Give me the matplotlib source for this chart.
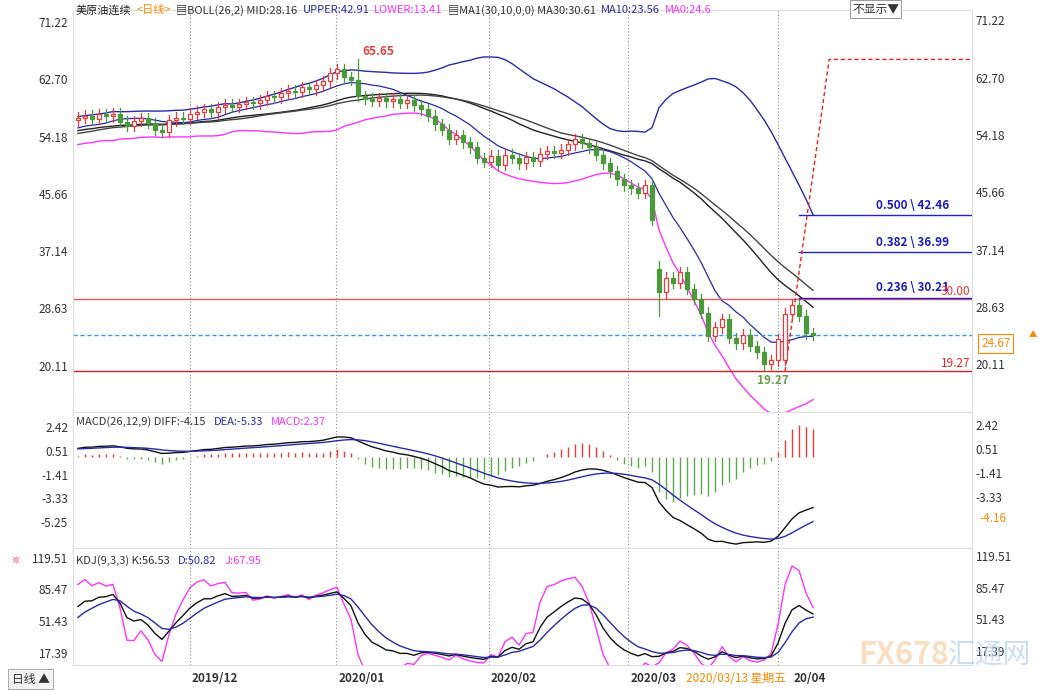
import numpy as np
import pandas as pd
import matplotlib
matplotlib.use('Agg')
import matplotlib.pyplot as plt
from matplotlib.patches import Rectangle

plt.rcParams['font.family'] = ['Noto Sans CJK SC', 'DejaVu Sans']

# closes before the visible window (warm-up for the indicators)
history = [52.0, 52.6, 51.8, 51.2, 52.1, 52.9, 53.8, 53.1, 54.2, 54.8,
           53.9, 54.9, 55.3, 54.4, 55.6, 54.9, 56.0, 55.1, 55.8, 56.6,
           55.6, 54.7, 55.4, 56.3, 55.2, 54.4, 53.9, 55.0, 56.1, 56.6]

closes = [57.0, 57.3, 56.8, 57.5, 57.2, 57.6, 56.4, 55.8,
          56.5, 56.9, 56.2, 55.2, 54.9, 56.6, 57.0, 56.8,
          57.6, 57.9, 58.2, 57.8, 58.5, 58.9, 58.6, 59.0,
          59.3, 59.1, 59.6, 60.2, 60.0, 60.6, 61.0, 60.8,
          61.5, 61.2, 61.8, 62.4, 63.6,
          64.2, 63.0, 62.6, 60.2, 59.8,
          59.5, 59.9, 59.4, 59.8, 59.2, 59.6, 58.8, 58.2,
          57.3, 56.0, 55.2, 53.8, 54.4, 53.3, 52.6,
          51.0, 50.4, 51.3, 50.0, 51.5, 51.0, 50.2,
          51.1, 50.6, 51.6, 52.0, 51.8, 52.2,
          53.0, 53.8, 53.2, 52.6,
          51.5, 50.2, 49.0, 47.8, 46.9, 46.5,
          45.8, 46.9, 41.8,
          31.0, 33.2, 32.4, 34.0, 31.5, 30.0,
          28.0, 24.5, 25.8, 27.0, 24.2, 23.4,
          24.7, 23.0, 22.1, 20.4, 20.9,
          24.0, 27.8, 29.1, 27.5, 24.9, 24.67]
gap_opens = {83: 34.5, 101: 21.0}
wick = 0.8
special_high = {40: 65.65, 83: 35.6}
special_low = {98: 19.27, 83: 27.5}

fib_levels = [0.500, 0.382, 0.236]
fib_prices = [42.46, 36.99, 30.21]
main_ticks = [71.22, 62.70, 54.18, 45.66, 37.14, 28.63, 20.11]
macd_ticks = [2.42, 0.51, -1.41, -3.33, -5.25]
kdj_ticks = [119.51, 85.47, 51.43, 17.39]
month_pos = [16, 36.9, 58.7, 78.6]
month_lab = ['2019/12', '2020/01', '2020/02', '2020/03']

allc = pd.Series(history + closes)
n_h = len(history)
opens_all = allc.shift(1).fillna(allc.iloc[0]).values.copy()
for k, v in gap_opens.items():
    opens_all[n_h + k] = v
highs_all = np.maximum(opens_all, allc.values) + wick
lows_all = np.minimum(opens_all, allc.values) - wick
for k, v in special_high.items():
    highs_all[n_h + k] = v
for k, v in special_low.items():
    lows_all[n_h + k] = v

mid = allc.rolling(26).mean()
sd = allc.rolling(26).std(ddof=0)
upper, lower = mid + 2 * sd, mid - 2 * sd
ma30 = allc.rolling(30, min_periods=1).mean()
ma10 = allc.rolling(10).mean()
ema12 = allc.ewm(span=12, adjust=False).mean()
ema26 = allc.ewm(span=26, adjust=False).mean()
diff = ema12 - ema26
dea = diff.ewm(span=9, adjust=False).mean()
macd = 2 * (diff - dea)
hh = pd.Series(highs_all).rolling(9, min_periods=1).max()
ll = pd.Series(lows_all).rolling(9, min_periods=1).min()
rsv = (allc - ll) / (hh - ll) * 100
K = rsv.ewm(alpha=1/3, adjust=False).mean()
D = K.ewm(alpha=1/3, adjust=False).mean()
J = 3 * K - 2 * D

sl = slice(n_h, None)
x = np.arange(len(closes))
o, c, h, l = opens_all[sl], allc.values[sl], highs_all[sl], lows_all[sl]

fig = plt.figure(figsize=(10.42, 6.9), dpi=100)
L, W = 73 / 1042, 899 / 1042
def pane(top, bot):
    return fig.add_axes([L, 1 - bot / 690, W, (bot - top) / 690])
ax1 = pane(10, 412)
ax2 = pane(412, 548)
ax3 = pane(548, 665)
XL = (-0.7, 127.7)
RED, GRN = '#e83c3c', '#4a9a3c'

for ax in (ax1, ax2, ax3):
    ax.set_xlim(*XL)
    for s in ax.spines.values():
        s.set_color('#dddddd')
    ax.set_xticks([])
    ax.tick_params(axis='y', length=0, labelsize=8.5, colors='#333333')
    for m in month_pos + [100]:
        ax.axvline(m, color='#888888', ls=(0, (1, 2)), lw=0.8)

# candles
for i in x:
    up = c[i] >= o[i]
    col = RED if up else GRN
    ax1.plot([i, i], [l[i], h[i]], color=col, lw=0.9, zorder=3)
    b0, bh = min(o[i], c[i]), max(abs(c[i] - o[i]), 0.12)
    ax1.add_patch(Rectangle((i - 0.32, b0), 0.64, bh, facecolor='white' if up else col,
                            edgecolor=col, lw=0.9, zorder=4))
ax1.plot(x, upper[sl], color='#2a2aa6', lw=1)
ax1.plot(x, lower[sl], color='#ff33ff', lw=1)
ax1.plot(x, mid[sl], color='#222222', lw=1)
ax1.plot(x, ma30[sl], color='#444444', lw=1)
ax1.plot(x, ma10[sl], color='#2a2aa6', lw=0.9)

ax1.set_ylim(13.2, 73.0)
ax1.set_yticks(main_ticks)
ax1.set_yticklabels([f'{t:.2f}' for t in main_ticks])
ax1.axhline(30.0, color='#ee5555', lw=1)
ax1.axhline(19.27, color='#cc2222', lw=1)
ax1.axhline(24.67, color='#3399ff', lw=1, ls=(0, (3, 2)))
for f, p in zip(fib_levels, fib_prices):
    ax1.plot([103, XL[1]], [p, p], color='#2222cc', lw=1)
    ax1.text(124.5, p + 0.5, f'{f:.3f} \\ {p:.2f}', color='#1a1acc', fontsize=8.5,
             fontweight='bold', ha='right', va='bottom')
ax1.text(127.5, 30.2, '30.00', color='#ee3333', fontsize=8.5, ha='right', va='bottom')
ax1.text(127.5, 19.4, '19.27', color='#ee2222', fontsize=8.5, ha='right', va='bottom')
ax1.plot([101, 107.3, XL[1]], [19.27, 65.65, 65.65], color='#ee2222', lw=1, ls=(0, (3, 2)))
ax1.text(40.6, 65.9, '65.65', color='#dd4444', fontsize=8.5, fontweight='bold', va='bottom')
ax1.text(97, 18.9, '19.27', color='#6aa04a', fontsize=8.5, fontweight='bold', va='top')

# MACD
bar_c = [RED if v >= 0 else '#5aaa4c' for v in macd[sl]]
ax2.vlines(x, 0, macd[sl], colors=bar_c, lw=1)
ax2.plot(x, diff[sl], color='#111111', lw=1)
ax2.plot(x, dea[sl], color='#2a2aa6', lw=1)
ax2.set_ylim(-7.3, 3.6)
ax2.set_yticks(macd_ticks)
ax2.set_yticklabels([f'{t:.2f}' for t in macd_ticks])

# KDJ
ax3.plot(x, J[sl], color='#ff33ff', lw=1)
ax3.plot(x, K[sl], color='#111111', lw=1)
ax3.plot(x, D[sl], color='#2a2aa6', lw=1)
ax3.set_ylim(4, 130)
ax3.set_yticks(kdj_ticks)
ax3.set_yticklabels([f'{t:.2f}' for t in kdj_ticks])

# right-side labels
for ax, ticks in ((ax1, main_ticks), (ax2, macd_ticks[:4]), (ax3, kdj_ticks)):
    for t in ticks:
        ax.text(1.004, t, f'{t:.2f}', transform=ax.get_yaxis_transform(), fontsize=8.5,
                color='#333333', va='center')
ax1.text(1.01, 24.67 - 1.3, '24.67', transform=ax1.get_yaxis_transform(), fontsize=8.5,
         color='#ff8800', va='center', clip_on=False,
         bbox=dict(boxstyle='square,pad=0.25', fc='white', ec='#ff8800', lw=0.8))
ax1.text(1.072, 24.67, '▲', transform=ax1.get_yaxis_transform(), fontsize=6,
         color='#ff8800', va='center', ha='right')
ax2.text(1.008, -4.9, '-4.16', transform=ax2.get_yaxis_transform(), fontsize=8.5,
         color='#ff8800', va='center')

# headers, laid out left to right by measured width
renderer = fig.canvas.get_renderer()
def header(y, parts, gap=5, fs=8):
    xx = 76
    for txt, col in parts:
        t = fig.text(xx / 1042, 1 - y / 690, txt, color=col, fontsize=fs, va='center')
        xx = t.get_window_extent(renderer).x1 + gap
header(10, [('美原油连续', '#222222'), ('<日线>', '#ff8800'), ('▤BOLL(26,2) MID:28.16', '#333333'),
            ('UPPER:42.91', '#2a2aa6'), ('LOWER:13.41', '#ff33ff'),
            ('▤MA1(30,10,0,0) MA30:30.61', '#333333'), ('MA10:23.56', '#2a2aa6'),
            ('MA0:24.6', '#ff33ff')])
header(422, [('MACD(26,12,9) DIFF:-4.15', '#333333'), ('DEA:-5.33', '#2a2aa6'),
             ('MACD:2.37', '#ff33ff')], gap=8)
header(561, [('KDJ(9,3,3) K:56.53', '#333333'), ('D:50.82', '#2a2aa6'),
             ('J:67.95', '#ff33ff')], gap=8)
fig.text(10 / 1042, 1 - 561 / 690, '☼', color='#dd3333', fontsize=8, va='center')
fig.text(852 / 1042, 1 - 9 / 690, '不显示▼', fontsize=8.5, color='#333333', va='center',
         bbox=dict(boxstyle='square,pad=0.2', fc='white', ec='#999999', lw=0.7))

# date axis
for m, lab in zip(month_pos, month_lab):
    fig.text((78 + 7 * m + 2) / 1042, 1 - 678 / 690, lab, fontsize=8.5, color='#333333',
             fontweight='bold', va='center')
fig.text(686 / 1042, 1 - 678 / 690, '2020/03/13 星期五', fontsize=8.5, color='#ff8800', va='center')
fig.text(794 / 1042, 1 - 678 / 690, '20/04', fontsize=8.5, color='#333333', fontweight='bold', va='center')
fig.text(12 / 1042, 1 - 679 / 690, '日线 ▲', fontsize=8.5, color='#333333', va='center',
         bbox=dict(boxstyle='square,pad=0.3', fc='#f3f3f3', ec='#aaaaaa', lw=0.7))
fig.text(858 / 1042, 1 - 655 / 690, 'FX678', fontsize=22, color='#f8c89a', alpha=0.6,
         fontweight='bold', va='center')
fig.text(948 / 1042, 1 - 655 / 690, '汇通网', fontsize=20, color='#a8c8e8', alpha=0.6, va='center')

fig.savefig('out.png', dpi=100)
